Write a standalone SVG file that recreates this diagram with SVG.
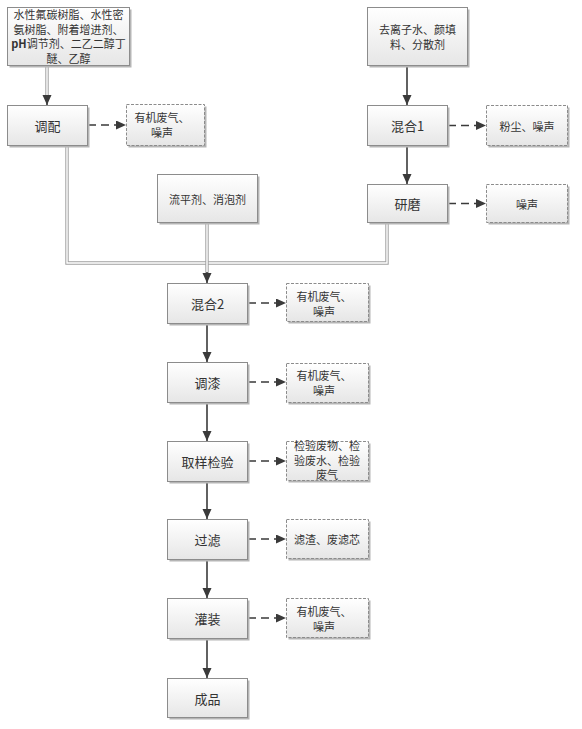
<svg xmlns="http://www.w3.org/2000/svg" width="582" height="729" viewBox="0 0 582 729">
<defs>
<linearGradient id="g" x1="0" y1="0" x2="0" y2="1">
<stop offset="0" stop-color="#ffffff"/>
<stop offset="1" stop-color="#e6e6e6"/>
</linearGradient>
<marker id="ah" markerUnits="userSpaceOnUse" markerWidth="12" markerHeight="10" refX="10" refY="4.5" orient="auto">
<path d="M0,0 L10,4.5 L0,9 z" fill="#3a3a3a"/>
</marker>
</defs>
<style>
.sh{fill:#b5b5b5}
.box{fill:url(#g);stroke:#8c8c8c;stroke-width:1}
.wbox{fill:url(#g);stroke:#8c8c8c;stroke-width:1;stroke-dasharray:3,1.5}
.t{font-family:"Noto Sans CJK SC","Noto Sans",sans-serif;fill:#333;text-anchor:middle;dominant-baseline:central}
.m{font-size:13px}
.s{font-size:11px}
.a{stroke:#3a3a3a;stroke-width:1.6;fill:none}
.d{stroke:#3a3a3a;stroke-width:1.6;fill:none;stroke-dasharray:8,5}
.do{stroke:#a0a0a0;stroke-width:3.4;fill:none}
.di{stroke:#ffffff;stroke-width:1.4;fill:none}
</style>
<rect width="582" height="729" fill="#ffffff"/>
<g id="connectors">
<line class="do" x1="47" y1="65" x2="47" y2="96"/>
<line class="di" x1="47" y1="65" x2="47" y2="96"/>
<line class="a" x1="47" y1="95" x2="47" y2="105" marker-end="url(#ah)"/>
<polyline class="do" points="67,145 67,263 387,263 387,223"/>
<polyline class="di" points="67,145 67,263 387,263 387,223"/>
<line class="do" x1="207" y1="223" x2="207" y2="274"/>
<line class="di" x1="207" y1="223" x2="207" y2="274"/>
<line class="a" x1="207" y1="272" x2="207" y2="283" marker-end="url(#ah)"/>
<line class="a" x1="407" y1="66" x2="407" y2="105" marker-end="url(#ah)"/>
<line class="a" x1="407" y1="146" x2="407" y2="184" marker-end="url(#ah)"/>
<line class="d" x1="88" y1="125" x2="126" y2="125" marker-end="url(#ah)"/>
<line class="d" x1="448" y1="125.5" x2="486" y2="125.5" marker-end="url(#ah)"/>
<line class="d" x1="448" y1="203.5" x2="486" y2="203.5" marker-end="url(#ah)"/>
<line class="d" x1="248" y1="303" x2="286" y2="303" marker-end="url(#ah)"/>
<line class="d" x1="248" y1="382" x2="286" y2="382" marker-end="url(#ah)"/>
<line class="d" x1="248" y1="461" x2="286" y2="461" marker-end="url(#ah)"/>
<line class="d" x1="248" y1="539" x2="286" y2="539" marker-end="url(#ah)"/>
<line class="d" x1="248" y1="618" x2="286" y2="618" marker-end="url(#ah)"/>
<line class="a" x1="207" y1="323" x2="207" y2="362" marker-end="url(#ah)"/>
<line class="a" x1="207" y1="402" x2="207" y2="441" marker-end="url(#ah)"/>
<line class="a" x1="207" y1="481" x2="207" y2="519" marker-end="url(#ah)"/>
<line class="a" x1="207" y1="559" x2="207" y2="598" marker-end="url(#ah)"/>
<line class="a" x1="207" y1="638" x2="207" y2="678" marker-end="url(#ah)"/>
</g>
<g id="raw1">
<rect class="sh" x="9.5" y="9.5" width="122" height="58"/>
<rect class="box" x="7.5" y="7.5" width="122" height="58"/>
<text class="t s"><tspan x="68.5" y="14">水性氟碳树脂、水性密</tspan><tspan x="68.5" y="28.5">氨树脂、附着增进剂、</tspan><tspan x="68.5" y="43"><tspan font-weight="bold">pH</tspan>调节剂、二乙二醇丁</tspan><tspan x="68.5" y="57.5">醚、乙醇</tspan></text>
</g>
<g id="tiaopei">
<rect class="sh" x="9.5" y="107.5" width="80" height="40"/>
<rect class="box" x="7.5" y="105.5" width="80" height="40"/>
<text class="t m" x="47.5" y="125.5">调配</text>
</g>
<g id="w1">
<rect class="sh" x="128.5" y="106.5" width="78" height="41"/>
<rect class="wbox" x="126.5" y="104.5" width="78" height="41"/>
<text class="t s"><tspan x="162" y="117">有机废气、</tspan><tspan x="162" y="132">噪声</tspan></text>
</g>
<g id="raw2">
<rect class="sh" x="369.5" y="9.5" width="100" height="58"/>
<rect class="box" x="367.5" y="7.5" width="100" height="58"/>
<text class="t s"><tspan x="417.5" y="28.5">去离子水、颜填</tspan><tspan x="417.5" y="43.5">料、分散剂</tspan></text>
</g>
<g id="hunhe1">
<rect class="sh" x="369.5" y="107.5" width="80" height="40"/>
<rect class="box" x="367.5" y="105.5" width="80" height="40"/>
<text class="t m" x="407.5" y="125.5">混合1</text>
</g>
<g id="w2">
<rect class="sh" x="488.5" y="107.5" width="81" height="40"/>
<rect class="wbox" x="486.5" y="105.5" width="81" height="40"/>
<text class="t s" x="527" y="125.5">粉尘、噪声</text>
</g>
<g id="yanmo">
<rect class="sh" x="369.5" y="186.5" width="80" height="38"/>
<rect class="box" x="367.5" y="184.5" width="80" height="38"/>
<text class="t m" x="407.5" y="203.5">研磨</text>
</g>
<g id="w3">
<rect class="sh" x="488.5" y="186.5" width="81" height="38"/>
<rect class="wbox" x="486.5" y="184.5" width="81" height="38"/>
<text class="t s" x="527" y="203.5">噪声</text>
</g>
<g id="raw3">
<rect class="sh" x="159.5" y="176.5" width="100" height="48"/>
<rect class="box" x="157.5" y="174.5" width="100" height="48"/>
<text class="t s" x="207.5" y="199">流平剂、消泡剂</text>
</g>
<g id="hunhe2">
<rect class="sh" x="169.5" y="285.5" width="80" height="40"/>
<rect class="box" x="167.5" y="283.5" width="80" height="40"/>
<text class="t m" x="207.5" y="303">混合2</text>
</g>
<g id="w4">
<rect class="sh" x="288.5" y="285.5" width="82" height="38"/>
<rect class="wbox" x="286.5" y="283.5" width="82" height="38"/>
<text class="t s"><tspan x="324" y="296">有机废气、</tspan><tspan x="324" y="311">噪声</tspan></text>
</g>
<g id="tiaoqi">
<rect class="sh" x="169.5" y="364.5" width="80" height="40"/>
<rect class="box" x="167.5" y="362.5" width="80" height="40"/>
<text class="t m" x="207.5" y="382">调漆</text>
</g>
<g id="w5">
<rect class="sh" x="288.5" y="365.5" width="82" height="39"/>
<rect class="wbox" x="286.5" y="363.5" width="82" height="39"/>
<text class="t s"><tspan x="324" y="375">有机废气、</tspan><tspan x="324" y="390">噪声</tspan></text>
</g>
<g id="quyang">
<rect class="sh" x="169.5" y="443.5" width="80" height="40"/>
<rect class="box" x="167.5" y="441.5" width="80" height="40"/>
<text class="t m" x="207.5" y="461">取样检验</text>
</g>
<g id="w6">
<rect class="sh" x="288.5" y="443.5" width="82" height="39"/>
<rect class="wbox" x="286.5" y="441.5" width="82" height="39"/>
<text class="t s"><tspan x="327" y="445">检验废物、检</tspan><tspan x="327" y="459.5">验废水、检验</tspan><tspan x="327" y="474">废气</tspan></text>
</g>
<g id="guolv">
<rect class="sh" x="169.5" y="521.5" width="80" height="40"/>
<rect class="box" x="167.5" y="519.5" width="80" height="40"/>
<text class="t m" x="207.5" y="539">过滤</text>
</g>
<g id="w7">
<rect class="sh" x="288.5" y="521.5" width="82" height="39"/>
<rect class="wbox" x="286.5" y="519.5" width="82" height="39"/>
<text class="t s" x="327" y="539">滤渣、废滤芯</text>
</g>
<g id="guanzhuang">
<rect class="sh" x="169.5" y="600.5" width="80" height="40"/>
<rect class="box" x="167.5" y="598.5" width="80" height="40"/>
<text class="t m" x="207.5" y="618">灌装</text>
</g>
<g id="w8">
<rect class="sh" x="288.5" y="600.5" width="82" height="39"/>
<rect class="wbox" x="286.5" y="598.5" width="82" height="39"/>
<text class="t s"><tspan x="324" y="611">有机废气、</tspan><tspan x="324" y="626">噪声</tspan></text>
</g>
<g id="chengpin">
<rect class="sh" x="169.5" y="680.5" width="80" height="39"/>
<rect class="box" x="167.5" y="678.5" width="80" height="39"/>
<text class="t m" x="207.5" y="698">成品</text>
</g>
</svg>
